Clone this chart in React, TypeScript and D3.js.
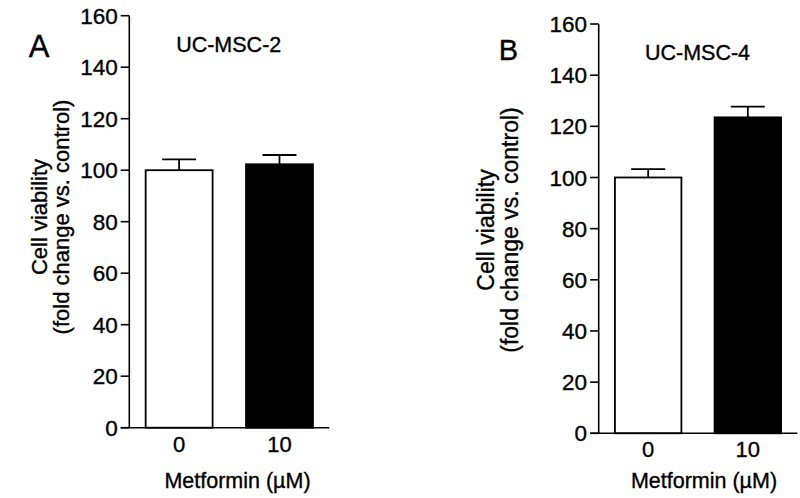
import React from "react";
import * as d3 from "d3";

const categories = ["0", "10"];
const panelLetters = ["A", "B"];
const panelTitles = ["UC-MSC-2", "UC-MSC-4"];
const valuesA = [100, 102.3];
const errorsA = [4.2, 3.6];
const valuesB = [100, 123.5];
const errorsB = [3.3, 4.2];
const barFills = ["#ffffff", "#000000"];
const yTicks = [0, 20, 40, 60, 80, 100, 120, 140, 160];
const xTitle = "Metformin (µM)";
const yTitle1 = "Cell viability";
const yTitle2 = "(fold change vs. control)";

const FONT = "'Liberation Sans', Arial, Helvetica, sans-serif";
const TXT_STROKE = 0.35;

type PanelCfg = {
  letter: string;
  title: string;
  values: number[];
  errors: number[];
  axisX: number;
  axisEnd: number;
  yTop: number;
  yBottom: number;
  letterPos: [number, number];
  letterSize: number;
  titlePos: [number, number];
  yLab1X: number;
  yLab2X: number;
  yLabCY: number;
  yLabSize: number;
  xTickY: number;
  xTitlePos: [number, number];
};

const panels: PanelCfg[] = [
  {
    letter: panelLetters[0],
    title: panelTitles[0],
    values: valuesA,
    errors: errorsA,
    axisX: 129.3,
    axisEnd: 329.3,
    yTop: 15.7,
    yBottom: 427.7,
    letterPos: [39, 57],
    letterSize: 31,
    titlePos: [228.7, 52],
    yLab1X: 47,
    yLab2X: 69,
    yLabCY: 217,
    yLabSize: 22,
    xTickY: 451.5,
    xTitlePos: [237.5, 487.5],
  },
  {
    letter: panelLetters[1],
    title: panelTitles[1],
    values: valuesB,
    errors: errorsB,
    axisX: 598.7,
    axisEnd: 797.3,
    yTop: 24,
    yBottom: 433.3,
    letterPos: [508.5, 60],
    letterSize: 29,
    titlePos: [697.5, 59.5],
    yLab1X: 494,
    yLab2X: 518,
    yLabCY: 230,
    yLabSize: 23,
    xTickY: 456.5,
    xTitlePos: [704, 487.5],
  },
];

function Panel({ cfg }: { cfg: PanelCfg }) {
  const y = d3.scaleLinear().domain([0, 160]).range([cfg.yBottom, cfg.yTop]);
  const x = d3
    .scaleBand<string>()
    .domain(categories)
    .range([cfg.axisX, cfg.axisEnd])
    .paddingInner(0.333)
    .paddingOuter(0.163);
  const tickLen = 8.6;
  const bw = x.bandwidth();
  const capHalf = 17;
  return (
    <g fontFamily={FONT} fill="#000" stroke="none">
      <g stroke="#000" strokeWidth={TXT_STROKE}>
        <text x={cfg.letterPos[0]} y={cfg.letterPos[1]} fontSize={cfg.letterSize} textAnchor="middle">
          {cfg.letter}
        </text>
        <text x={cfg.titlePos[0]} y={cfg.titlePos[1]} fontSize={21.5} textAnchor="middle">
          {cfg.title}
        </text>
        <g transform={`translate(${cfg.yLab1X},${cfg.yLabCY}) rotate(-90)`}>
          <text fontSize={cfg.yLabSize} textAnchor="middle">{yTitle1}</text>
        </g>
        <g transform={`translate(${cfg.yLab2X},${cfg.yLabCY}) rotate(-90)`}>
          <text fontSize={cfg.yLabSize} textAnchor="middle">{yTitle2}</text>
        </g>
        {yTicks.map((t) => (
          <text key={t} x={cfg.axisX - tickLen - 3} y={y(t)} dy="0.36em" fontSize={22.5} textAnchor="end">
            {t}
          </text>
        ))}
        {categories.map((c) => (
          <text key={c} x={x(c)! + bw / 2} y={cfg.xTickY} fontSize={22} textAnchor="middle">
            {c}
          </text>
        ))}
        <text x={cfg.xTitlePos[0]} y={cfg.xTitlePos[1]} fontSize={21.5} textAnchor="middle">
          {xTitle}
        </text>
      </g>
      {/* bars */}
      {cfg.values.map((v, i) => {
        const x0 = x(categories[i])!;
        const cx = x0 + bw / 2;
        const top = y(v);
        const errTop = y(v + cfg.errors[i]);
        return (
          <g key={i}>
            <line x1={cx} x2={cx} y1={top} y2={errTop} stroke="#000" strokeWidth={1.8} />
            <line x1={cx - capHalf} x2={cx + capHalf} y1={errTop} y2={errTop} stroke="#000" strokeWidth={1.8} />
            <rect
              x={x0}
              y={top}
              width={bw}
              height={y(0) - top}
              fill={barFills[i]}
              stroke="#000"
              strokeWidth={1.8}
            />
          </g>
        );
      })}
      {/* y axis */}
      <line x1={cfg.axisX} x2={cfg.axisX} y1={y(160)} y2={y(0)} stroke="#000" strokeWidth={1.6} />
      {yTicks.map((t) => (
        <line key={t} x1={cfg.axisX - tickLen} x2={cfg.axisX} y1={y(t)} y2={y(t)} stroke="#000" strokeWidth={1.6} />
      ))}
      {/* x axis */}
      <line x1={cfg.axisX - tickLen} x2={cfg.axisEnd} y1={y(0)} y2={y(0)} stroke="#000" strokeWidth={1.6} />
    </g>
  );
}

export default function App() {
  return (
    <svg
      width={800}
      height={498}
      style={{ position: "absolute", left: 0, top: 0, background: "#fff" }}
    >
      <rect width={800} height={498} fill="#fff" />
      {panels.map((p, i) => (
        <Panel key={i} cfg={p} />
      ))}
    </svg>
  );
}
